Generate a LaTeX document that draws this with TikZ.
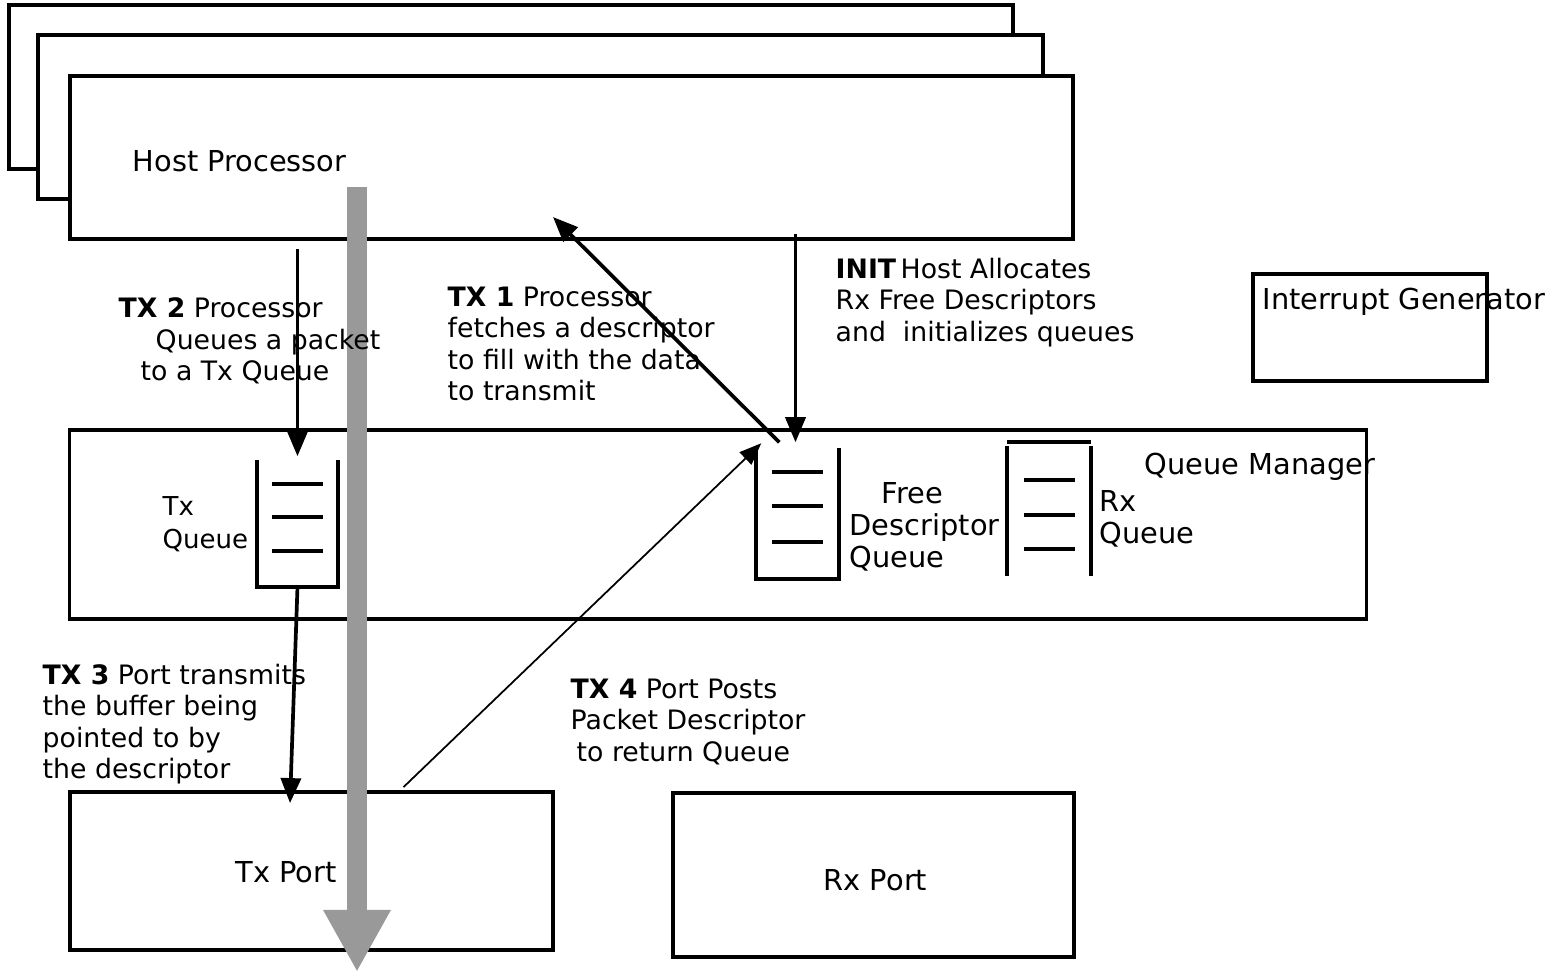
\documentclass[tikz,border=0pt]{standalone}
\usepackage{fontspec}
\setmainfont{DejaVu Sans}
\usetikzlibrary{arrows.meta,calc}
\definecolor{flowgray}{RGB}{153,153,153}

\begin{document}
\begin{tikzpicture}[x=0.01cm, y=-0.01cm,
    box/.style={rectangle, draw, line width=1.05pt, fill=white, inner sep=0pt},
    qbox/.style={rectangle, inner sep=0pt},
    boxtext/.style={font=\fontsize{8.2}{9.1}\selectfont, align=left, inner sep=0pt},
    steptext/.style={font=\fontsize{7.6}{8.96}\selectfont, align=left, inner sep=0pt, anchor=north west},
    qline/.style={line width=1.05pt},
    flow/.style={line width=1.05pt, -{Triangle[length=0.25cm,width=0.2cm]}},
    thinflow/.style={line width=0.5pt, -{Triangle[length=0.22cm,width=0.17cm]}},
    bigflow/.style={draw=flowgray, fill=flowgray, line width=0.2cm, -{Triangle[length=0.62cm,width=0.63cm]}}
]
    \useasboundingbox (0,0) rectangle (1560,973);

    % Host processors
    \node[box, minimum width=10.04cm, minimum height=1.64cm] (host3) at (511,87) {};
    \node[box, minimum width=10.05cm, minimum height=1.64cm] (host2) at (540.5,117) {};
    \node[box, minimum width=10.03cm, minimum height=1.63cm] (host) at (571.5,157.5) {};
    \node[boxtext, anchor=base west] (hostlbl) at (132,172) {Host Processor};

    % Interrupt generator
    \node[box, minimum width=2.34cm, minimum height=1.07cm] (intgen) at (1370,327.5) {};
    \node[boxtext, anchor=base west] (intlbl) at (1262,310) {Interrupt Generator};

    % Queue manager
    \node[box, minimum width=12.96cm, minimum height=1.89cm] (qm) at (718,524.5) {};
    \node[boxtext, anchor=base west] (qmlbl) at (1144,474) {Queue Manager};

    % Ports
    \node[box, minimum width=4.83cm, minimum height=1.58cm] (txport) at (311.5,871) {};
    \node[boxtext, anchor=base west] (txportlbl) at (235,882) {Tx Port};
    \node[box, minimum width=4.01cm, minimum height=1.64cm] (rxport) at (873.5,875) {};
    \node[boxtext, anchor=base west] (rxportlbl) at (823,890) {Rx Port};

    % Tx queue
    \node[qbox, minimum width=0.79cm, minimum height=1.25cm] (txq) at (297.5,523.5) {};
    \draw[qline] (txq.north west) -- (txq.south west) -- (txq.south east) -- (txq.north east);
    \foreach \dy in {24,57,91}
        \draw[qline] ($(txq.north west)+(15,\dy)$) -- ($(txq.north east)+(-15,\dy)$);
    \node[boxtext, font=\fontsize{7.4}{9.3}\selectfont, anchor=north west] (txqlbl) at (162,496) {Tx\\Queue};

    % Free descriptor queue
    \node[qbox, minimum width=0.81cm, minimum height=1.29cm] (fdq) at (797.5,513.5) {};
    \draw[qline] (fdq.north west) -- (fdq.south west) -- (fdq.south east) -- (fdq.north east);
    \foreach \dy in {24,58,94}
        \draw[qline] ($(fdq.north west)+(16,\dy)$) -- ($(fdq.north east)+(-16,\dy)$);
    \node[boxtext, anchor=north west] (fdqlbl) at (849,482) {\hspace*{0.32cm}Free\\Descriptor\\Queue};

    % Rx queue
    \node[qbox, minimum width=0.82cm, minimum height=1.32cm] (rxq) at (1049,509) {};
    \draw[qline] (rxq.north west) -- (rxq.north east);
    \draw[qline] ($(rxq.north west)+(0,4)$) -- (rxq.south west);
    \draw[qline] ($(rxq.north east)+(0,4)$) -- (rxq.south east);
    \foreach \dy in {38,73,107}
        \draw[qline] ($(rxq.north west)+(17,\dy)$) -- ($(rxq.north east)+(-16,\dy)$);
    \node[boxtext, anchor=north west] (rxqlbl) at (1099,490) {Rx\\Queue};

    % Data flow
    \coordinate (flowtop) at (357,187);
    \coordinate (flowend) at (357,972);
    \draw[bigflow] (flowtop) -- (flowend);

    % Steps
    \coordinate (tx1tip) at (553,217);
    \draw[flow] ($(host.south -| txq.north)+(0,8)$) -- ($(txq.north)+(0,-4)$);
    \draw[flow] ($(fdq.north west)+(23,-6)$) -- (tx1tip);
    \draw[flow] ($(host.south -| fdq.north)+(-2,-7)$) -- ($(fdq.north)+(-2,-6)$);
    \draw[flow] (txq.south) -- ($(txport.north west)+(222,13)$);
    \draw[thinflow] ($(txport.north)+(92,-3)$) -- ($(fdq.north west)+(5,-5)$);

    \node[steptext] (tx2lbl) at (118,297) {\textbf{TX 2} Processor\\\hspace*{0.37cm}Queues a packet\\\hspace*{0.22cm}to a Tx Queue};
    \node[steptext] (tx1lbl) at (447,286) {\textbf{TX 1} Processor\\fetches a descriptor\\to fill with the data\\to transmit};
    \node[steptext] (initlbl) at (835,257) {\textbf{INIT}\,Host Allocates\\Rx Free Descriptors\\and\ \ initializes queues};
    \node[steptext] (tx3lbl) at (42,663) {\textbf{TX 3} Port transmits\\the buffer being\\pointed to by\\the descriptor};
    \node[steptext] (tx4lbl) at (570,678) {\textbf{TX 4} Port Posts\\Packet Descriptor\\\hspace*{0.06cm}to return Queue};
\end{tikzpicture}
\end{document}
